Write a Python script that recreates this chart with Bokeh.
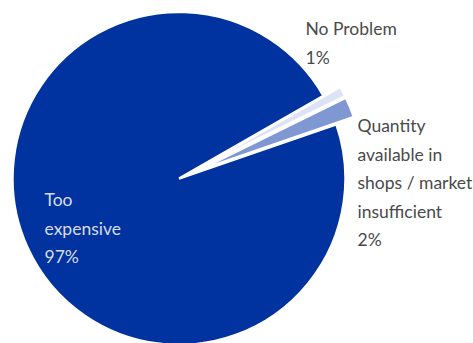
import math
from bokeh.plotting import figure
from bokeh.models import Range1d, ColumnDataSource
from bokeh.core.properties import value
from bokeh.embed import file_html
from bokeh.resources import INLINE

# ---- data ----
categories = ["Too expensive", "No Problem", "Quantity available in shops / market insufficient"]
percentages = [97, 1, 2]
label_lines = [["Too", "expensive"], ["No Problem"], ["Quantity", "available in", "shops / market", "insufficient"]]
slice_colors = ["#0033a0", "#dce3f5", "#7f98d4"]
exploded = [False, True, True]

# ---- layout ----
W, H = 473, 343
cx, cy, R = 178.5, H - 178.0, 166.5
explode_px = 19.0
start_deg = 19.0  # slices run clockwise from here (math angle)

p = figure(width=W, height=H, output_backend="svg", toolbar_location=None,
           x_range=Range1d(0, W), y_range=Range1d(0, H), min_border=0)
p.axis.visible = False
p.grid.visible = False
p.outline_line_color = None
p.background_fill_color = "white"
p.border_fill_color = "white"

total = float(sum(percentages))
xs, ys, sa, ea = [], [], [], []
ang = math.radians(start_deg)
for v, ex in zip(percentages, exploded):
    span = 2 * math.pi * v / total
    end = ang
    start = ang - span
    mid = (start + end) / 2
    off = explode_px if ex else 0.0
    xs.append(cx + off * math.cos(mid))
    ys.append(cy + off * math.sin(mid))
    sa.append(start)
    ea.append(end)
    ang = start

src = ColumnDataSource(dict(x=xs, y=ys, start=sa, end=ea, color=slice_colors))
p.wedge(x="x", y="y", radius=R, start_angle="start", end_angle="end",
        direction="anticlock", fill_color="color", line_color="white", line_width=2.5,
        source=src)

# ---- labels ----
label_pos = [(44, 199, "#d8dcea"), (305, 28, "#4a4a4a"), (357, 125, "#4a4a4a")]
line_step = 28.5
tx, ty, tt, tc = [], [], [], []
for lines, pct, (lx, ly, col) in zip(label_lines, percentages, label_pos):
    for i, s in enumerate(lines + [f"{pct}%"]):
        tx.append(lx)
        ty.append(H - (ly + i * line_step))
        tt.append(s)
        tc.append(col)
tsrc = ColumnDataSource(dict(x=tx, y=ty, text=tt, color=tc))
p.text(x="x", y="y", text="text", text_color="color", source=tsrc,
       text_font=value("Lato"), text_font_size="17.5px", text_baseline="middle",
       text_align="left")

open("out.html", "w").write(file_html(p, INLINE))
